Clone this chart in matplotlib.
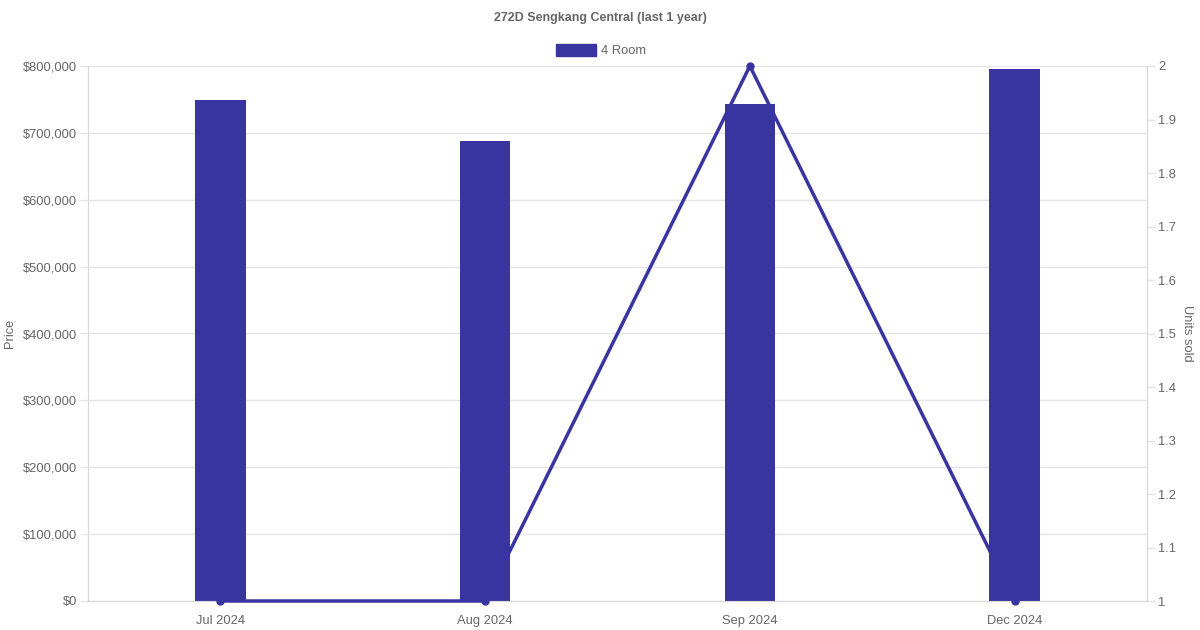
import numpy as np
import matplotlib.pyplot as plt
from matplotlib.ticker import FuncFormatter

plt.rcParams['font.family'] = ['Liberation Sans', 'DejaVu Sans']

months = ['Jul 2024', 'Aug 2024', 'Sep 2024', 'Dec 2024']
prices = [749000, 688000, 743000, 795000]
units = [1, 1, 2, 1]

color = '#3935a0'
grid_c = '#e5e5e5'
text_c = '#666666'

fig = plt.figure(figsize=(12, 6.3), dpi=100)
ax = fig.add_axes([88 / 1200, 1 - 601 / 630, (1147 - 88) / 1200, (601 - 66) / 630])
ax2 = ax.twinx()

x = np.arange(len(months)) + 0.5
ax.bar(x, prices, width=0.19, color=color, zorder=3)
ax2.plot(x, units, color=color, lw=2.5, marker='o', ms=5, zorder=4, clip_on=False)

ax.set_xlim(0, len(months))
ax.set_ylim(0, 800000)
ax.set_yticks(np.arange(0, 800001, 100000))
ax.yaxis.set_major_formatter(FuncFormatter(lambda v, p: '${:,.0f}'.format(v)))
ax.set_xticks(x)
ax.set_xticklabels(months)
ax2.set_ylim(1, 2)
ax2.set_yticks(np.round(np.arange(1, 2.01, 0.1), 1))
ax2.yaxis.set_major_formatter(FuncFormatter(lambda v, p: '{:g}'.format(round(v, 1))))

ax.grid(axis='y', color=grid_c, lw=1, zorder=0)
ax.set_axisbelow(True)
for a in (ax, ax2):
    a.tick_params(axis='y', colors=grid_c, labelcolor=text_c, labelsize=9.3, length=6, width=1, pad=2)
    for s in a.spines.values():
        s.set_color('#d8d8d8')
    a.spines['top'].set_visible(False)
ax.tick_params(axis='x', length=0, pad=10, labelcolor=text_c, labelsize=9.3)

ax.set_ylabel('Price', color=text_c, fontsize=9.3, labelpad=4.5)
ax2.set_ylabel('Units sold', color=text_c, fontsize=9.3, rotation=-90, labelpad=12.5)

fig.text(0.5, 1 - 17 / 630, '272D Sengkang Central (last 1 year)', ha='center', va='center_baseline',
         fontsize=9, fontweight='bold', color=text_c)
fig.patches.append(plt.Rectangle((556 / 1200, 1 - 56 / 630), 40 / 1200, 12 / 630,
                                 transform=fig.transFigure, color=color))
fig.text(601 / 1200, 1 - 50 / 630, '4 Room', ha='left', va='center_baseline', fontsize=9.3, color=text_c)

fig.savefig('out.png', dpi=100)
